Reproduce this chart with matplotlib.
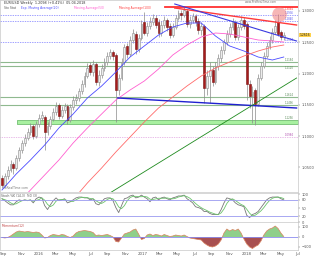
import numpy as np
import pandas as pd
import matplotlib
matplotlib.use('Agg')
import matplotlib.pyplot as plt
import matplotlib.dates as mdates
import matplotlib.transforms as mtrans

# ---------------- data ----------------
dates = pd.date_range('2015-08-26', periods=100, freq='10D')

opens = [1.0328,1.0216,1.0360,1.0456,1.0552,1.0488,1.0648,1.0776,1.0888,1.0968,
         1.1064,1.1160,1.1000,1.1192,1.1288,1.1304,1.1064,1.1160,1.1272,1.1384,
         1.1496,1.1320,1.1416,1.1480,1.1256,1.1464,1.1576,1.1608,1.1720,1.1832,
         1.1960,1.2136,1.2024,1.2152,1.1864,1.1976,1.2088,1.2184,1.2280,1.2344,
         1.2296,1.1736,1.1928,1.2184,1.2440,1.2312,1.2536,1.2632,1.2392,1.2568,
         1.2824,1.2648,1.2760,1.2824,1.2888,1.2824,1.2648,1.2776,1.2856,1.2760,
         1.2616,1.2744,1.2888,1.2968,1.2936,1.3000,1.2792,1.2856,1.2920,1.2840,
         1.2696,1.2760,1.1768,1.1960,1.2056,1.1864,1.2120,1.2248,1.2376,1.2504,
         1.2632,1.2744,1.2824,1.2584,1.2744,1.2856,1.2792,1.1832,1.1640,1.1736,
         1.1512,1.1928,1.2120,1.2280,1.2440,1.2536,1.2664,1.2824,1.2664,1.2584]
closes = [1.0216,1.0360,1.0456,1.0552,1.0488,1.0648,1.0776,1.0888,1.0968,1.1064,
          1.1160,1.1000,1.1192,1.1288,1.1336,1.1064,1.1160,1.1272,1.1384,1.1480,
          1.1320,1.1416,1.1480,1.1256,1.1464,1.1576,1.1608,1.1720,1.1832,1.1960,
          1.2088,1.2024,1.2152,1.1864,1.1976,1.2088,1.2184,1.2280,1.2344,1.2280,
          1.1736,1.1928,1.2184,1.2424,1.2312,1.2536,1.2648,1.2392,1.2568,1.2792,
          1.2648,1.2760,1.2824,1.2888,1.2776,1.2648,1.2776,1.2856,1.2744,1.2616,
          1.2744,1.2888,1.2968,1.2936,1.3016,1.2792,1.2856,1.2920,1.2824,1.2696,
          1.2760,1.1768,1.1960,1.2056,1.1864,1.2120,1.2248,1.2376,1.2504,1.2632,
          1.2744,1.2824,1.2584,1.2744,1.2856,1.2760,1.1832,1.1640,1.1704,1.1512,
          1.1928,1.2120,1.2280,1.2440,1.2536,1.2664,1.2760,1.2632,1.2584,1.2616]
highs = [1.0376,1.0408,1.0520,1.0616,1.0584,1.0696,1.0824,1.0936,1.1032,1.1128,
         1.1208,1.1192,1.1240,1.1352,1.1400,1.1336,1.1224,1.1320,1.1448,1.1544,
         1.1528,1.1480,1.1528,1.1512,1.1512,1.1640,1.1672,1.1768,1.1896,1.2024,
         1.2168,1.2184,1.2216,1.2184,1.2056,1.2152,1.2248,1.2344,1.2392,1.2376,
         1.2328,1.1992,1.2248,1.2472,1.2488,1.2600,1.2712,1.2680,1.2632,1.2856,
         1.2984,1.2824,1.2904,1.2952,1.2936,1.2872,1.2840,1.2920,1.2888,1.2808,
         1.2808,1.2936,1.3016,1.3016,1.3064,1.3032,1.2920,1.2968,1.2952,1.2888,
         1.2824,1.2792,1.2056,1.2184,1.2120,1.2184,1.2312,1.2440,1.2552,1.2696,
         1.2808,1.2888,1.2856,1.2792,1.2920,1.2904,1.2824,1.1896,1.1800,1.1768,
         1.1992,1.2184,1.2344,1.2504,1.2600,1.2728,1.2856,1.2952,1.2696,1.2664]
lows = [1.0168,1.0184,1.0312,1.0424,1.0392,1.0456,1.0600,1.0728,1.0840,1.0936,
        1.1016,1.0952,1.0968,1.1144,1.1240,1.0776,1.1016,1.1112,1.1240,1.1336,
        1.1272,1.1288,1.1368,1.1192,1.1224,1.1416,1.1512,1.1560,1.1672,1.1784,
        1.1928,1.1976,1.1960,1.1816,1.1800,1.1928,1.2040,1.2136,1.2232,1.2216,
        1.1224,1.1656,1.1896,1.2136,1.2248,1.2280,1.2488,1.2312,1.2344,1.2536,
        1.2616,1.2600,1.2712,1.2776,1.2728,1.2584,1.2600,1.2728,1.2680,1.2568,
        1.2584,1.2712,1.2856,1.2856,1.2904,1.2744,1.2728,1.2808,1.2760,1.2632,
        1.2616,1.1528,1.1656,1.1528,1.1800,1.1832,1.2056,1.2184,1.2312,1.2456,
        1.2584,1.2696,1.2536,1.2536,1.2696,1.2712,1.1576,1.1448,1.1208,1.1176,
        1.1480,1.1896,1.2088,1.2248,1.2392,1.2488,1.2632,1.2600,1.2536,1.2536]

# moving averages sampled at candle dates
ma_fast_idx = [0,5,10,15,20,25,30,35,40,45,50,55,60,65,70,75,80,85,90,95,99]
ma_fast = [1.0136,1.0392,1.0616,1.0856,1.1128,1.1352,1.1608,1.1800,1.2024,1.2264,
           1.2440,1.2616,1.2744,1.2808,1.2808,1.2600,1.2440,1.2360,1.2264,1.2216,1.2264]
ma_mid_idx = [9,10,15,20,25,30,35,40,45,50,55,60,65,70,75,80,85,90,95,99]
ma_mid = [1.0088,1.0136,1.0376,1.0616,1.0888,1.1128,1.1352,1.1576,1.1736,1.1880,
          1.2072,1.2296,1.2456,1.2584,1.2648,1.2632,1.2584,1.2536,1.2520,1.2504]
ma_slow_idx = [27,30,35,40,45,50,55,60,65,70,75,80,85,90,95,99]
ma_slow = [1.0088,1.0248,1.0488,1.0744,1.0984,1.1224,1.1448,1.1624,1.1800,1.1960,
           1.2088,1.2184,1.2280,1.2360,1.2424,1.2456]

# stochastic %K
stoch_k = [84,77,69,62,62,73,80,77,80,77,80,69,84,90,87,59,45,62,77,87,
           77,80,84,69,73,80,87,90,90,87,87,80,84,66,62,73,84,87,87,77,
           52,34,59,84,87,94,97,87,90,97,90,84,73,87,90,80,87,90,84,80,
           87,90,94,94,97,84,77,69,55,52,48,38,38,31,27,27,27,45,69,87,
           84,80,69,62,59,55,24,16,27,31,38,52,66,80,87,90,90,90,84,80]

# momentum histogram
momentum = [-5,-10,-5,10,30,50,60,55,50,55,50,45,50,45,20,-10,-5,15,25,20,
            15,25,20,5,-5,10,40,55,60,65,60,55,45,15,20,15,20,25,15,0,
            -45,-50,-10,30,40,50,70,80,30,-25,-15,20,30,15,25,20,10,25,15,5,
            10,20,15,10,20,5,-10,-15,-20,-25,-30,-60,-80,-95,-100,-90,-70,-30,40,80,
            60,75,65,80,40,-20,-70,-100,-115,-95,-80,-40,20,60,80,90,110,85,40,5]

# horizontal levels and trend lines
resist_lines = [1.2936, 1.2840, 1.2504]
green_levels = [1.2184, 1.2120, 1.1624, 1.1496]
support_band = (1.1192, 1.1256)
pink_level = 1.0984
top_red_level = 1.3064
red_trend = (('2017-04-24', 1.3048), ('2018-06-26', 1.2776))
blue_trend = (('2017-04-24', 1.3112), ('2018-06-26', 1.2520))
blue_low_trend = (('2016-10-06', 1.1608), ('2018-06-26', 1.1448))
green_trend = (('2016-09-08', 1.0088), ('2018-06-26', 1.1928))
circle_pt = ('2018-04-24', 1.2952)
price_ticks = [1.05, 1.10, 1.15, 1.20, 1.25, 1.30]

# ---------------- figure ----------------
W, H = 320, 256
fig = plt.figure(figsize=(W/100, H/100), dpi=100)
fig.patch.set_facecolor('white')

def rect(x0, y0, x1, y1):
    return [x0/W, 1 - y1/H, (x1-x0)/W, (y1-y0)/H]

ax = fig.add_axes(rect(0, 0, 298, 192))
ax2 = fig.add_axes(rect(0, 193, 298, 222), sharex=ax)
ax3 = fig.add_axes(rect(0, 222, 298, 250), sharex=ax)

x0, x1 = pd.Timestamp('2015-08-19'), pd.Timestamp('2018-07-01')
d = mdates.date2num(dates)

# candles
o = np.array(opens); c = np.array(closes); hi = np.array(highs); lo = np.array(lows)
up = c >= o
ax.vlines(d, lo, hi, color='#8a8a8a', lw=0.5, zorder=3)
ax.bar(d[up], (c-o)[up], bottom=o[up], width=6.5, color='#ececec',
       edgecolor='#8c8c8c', lw=0.4, zorder=4)
ax.bar(d[~up], (c-o)[~up], bottom=o[~up], width=6.5, color='#a51c1c',
       edgecolor='#7a1010', lw=0.4, zorder=4)

# moving averages
ax.plot(d[ma_fast_idx], ma_fast, color='#4b4bff', lw=0.6, zorder=5)
ax.plot(d[ma_mid_idx], ma_mid, color='#ff5fd0', lw=0.6, zorder=5)
ax.plot(d[ma_slow_idx], ma_slow, color='#ff6a6a', lw=0.6, zorder=5)

# horizontal levels
for lv in resist_lines:
    ax.axhline(lv, color='#7b7bff', lw=0.5, ls=(0, (2, 1.5)), zorder=2)
for lv in green_levels:
    ax.axhline(lv, color='#8fb98f', lw=0.8, zorder=2)
ax.fill_between([pd.Timestamp('2015-10-18'), x1], support_band[0], support_band[1],
                color='#a8f0a0', edgecolor='#5fb35f', lw=0.5, zorder=2)
ax.axhline(pink_level, color='#d27ad2', lw=0.5, ls=(0, (1, 1.5)), zorder=2)
ax.plot([pd.Timestamp('2017-03-20'), x1], [top_red_level]*2, color='#ff3030', lw=1.3, zorder=6)

def tline(seg, **kw):
    (da, pa), (db, pb) = seg
    ax.plot([pd.Timestamp(da), pd.Timestamp(db)], [pa, pb], **kw)

tline(red_trend, color='#ff3a3a', lw=1.0, zorder=6)
tline(blue_trend, color='#3a3ae0', lw=0.8, zorder=6)
tline(blue_low_trend, color='#2020d0', lw=1.0, zorder=6)
tline(green_trend, color='#1e8a1e', lw=0.6, zorder=6)
ax.scatter([pd.Timestamp(circle_pt[0])], [circle_pt[1]], s=110, color='#f07a7a',
           alpha=0.55, lw=0, zorder=7)

ax.set_xlim(x0, x1)
ax.set_ylim(1.3176 - 0.0016*192, 1.3176)

# stochastic panel
k = pd.Series(stoch_k, dtype=float)
dline = k.rolling(3, min_periods=1).mean()
ax2.plot(d, k, color='#777777', lw=0.6)
ax2.plot(d, dline, color='#6cc36c', lw=0.6)
ax2.axhline(80, color='#9a9af0', lw=0.6)
ax2.axhline(20, color='#9a9af0', lw=0.6)
ax2.set_ylim(2.35, 104.7)

# momentum panel
m = np.array(momentum, dtype=float)
ax3.fill_between(d, 0, m, where=m >= 0, interpolate=True, color='#8fcf8a', lw=0)
ax3.fill_between(d, 0, m, where=m < 0, interpolate=True, color='#a85050', lw=0)
ax3.plot(d, m, color='#d9825f', lw=0.5)
ax3.axhline(0, color='#8c8cf0', lw=0.6)
ax3.set_ylim(-130, 150)

# axes styling
for a in (ax, ax2, ax3):
    for s in a.spines.values():
        s.set_color('#c8c8c8'); s.set_linewidth(0.5)
    a.yaxis.tick_right()
    a.tick_params(axis='y', labelsize=2.6, length=1.2, width=0.3, pad=1.5,
                  colors='#555555')
    a.tick_params(axis='x', length=0)
    a.set_facecolor('white')

ax.set_yticks(price_ticks)
ax.set_yticklabels([f'{v:.4f}' for v in price_ticks])
ax2.set_yticks([0, 20, 50, 80, 100])
ax3.set_yticks([-100, 0, 100])
plt.setp(ax.get_xticklabels(), visible=False)
plt.setp(ax2.get_xticklabels(), visible=False)

loc = mdates.MonthLocator(bymonth=[1, 3, 5, 7, 9, 11])
def fmt(x, pos=None):
    dt = mdates.num2date(x)
    return str(dt.year) if dt.month == 1 else dt.strftime('%b')
ax3.xaxis.set_major_locator(loc)
ax3.xaxis.set_major_formatter(plt.FuncFormatter(fmt))
ax3.tick_params(axis='x', labelsize=2.8, colors='#555555', pad=1.2)

# texts
ax.text(0.012, 0.995, 'EUR/USD Weekly  1.2098 (+0.41%)  05.04.2018', transform=ax.transAxes,
        fontsize=2.4, va='top', ha='left', color='#333333')
ax.text(0.012, 0.968, 'Sto Stat', transform=ax.transAxes, fontsize=2.2, va='top', color='#555555')
ax.text(0.07, 0.968, 'Exp. Moving Average(20)', transform=ax.transAxes, fontsize=2.2,
        va='top', color='#4b4bff')
ax.text(0.25, 0.968, 'Moving Average(50)', transform=ax.transAxes, fontsize=2.2,
        va='top', color='#ff5fd0')
ax.text(0.40, 0.968, 'Moving Average(100)', transform=ax.transAxes, fontsize=2.2,
        va='top', color='#ff4040')
ax.text(0.93, 0.998, 'www.ProRealTime.com', transform=ax.transAxes, fontsize=2.1,
        va='top', ha='right', color='#777777')
ax.text(0.01, 0.012, 'ProRealTime.com', transform=ax.transAxes, fontsize=2.2,
        va='bottom', ha='left', color='#777777')
ax2.text(0.005, 0.95, 'Stoch %K (14,3)  %D (3)', transform=ax2.transAxes, fontsize=2.2,
         va='top', color='#555555')
ax3.text(0.005, 0.93, 'Momentum(12)', transform=ax3.transAxes, fontsize=2.2,
         va='top', color='#c04040')

# level labels on the right
tr = mtrans.blended_transform_factory(ax.transAxes, ax.transData)
for lv, col, va in [(top_red_level, '#ff3030', 'top'), (resist_lines[0], '#5555ee', 'bottom'),
                    (resist_lines[1], '#5555ee', 'bottom'), (resist_lines[2], '#5555ee', 'bottom'),
                    (green_levels[0], '#5a8a5a', 'bottom'), (green_levels[1], '#5a8a5a', 'top'),
                    (green_levels[2], '#5a8a5a', 'bottom'), (green_levels[3], '#5a8a5a', 'bottom'),
                    (support_band[1], '#5a8a5a', 'bottom'), (pink_level, '#b050b0', 'bottom')]:
    ax.text(0.985, lv, f'{lv:.4f}', transform=tr, fontsize=1.9, ha='right',
            va=va, color=col)
ax.text(1.005, closes[-1], f'{closes[-1]:.4f}', transform=tr, fontsize=2.2,
        ha='left', va='center', color='#222222',
        bbox=dict(boxstyle='square,pad=0.15', fc='#ffd24a', ec='none'), clip_on=False)

fig.savefig('out.png', dpi=100, facecolor='white')
